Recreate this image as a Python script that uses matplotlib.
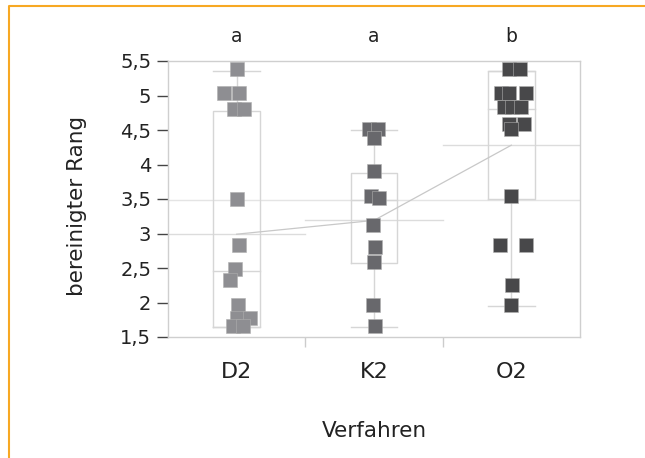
import matplotlib
matplotlib.use("Agg")
import matplotlib.pyplot as plt
from matplotlib.lines import Line2D
from matplotlib.ticker import FixedLocator, FuncFormatter

plt.rcParams['font.family'] = ['DejaVu Sans']

# data
categories = ["D2", "K2", "O2"]
letters = ["a", "a", "b"]

d2_values = [5.39, 5.03, 5.03, 4.81, 4.81, 3.50, 2.83, 2.48, 2.33, 1.97, 1.77, 1.77, 1.66, 1.66]
k2_values = [4.51, 4.51, 4.39, 3.90, 3.55, 3.51, 3.12, 2.81, 2.59, 1.96, 1.66]
o2_values = [5.39, 5.39, 5.03, 5.03, 5.03, 4.83, 4.83, 4.83, 4.59, 4.59, 4.51,
             3.55, 2.83, 2.83, 2.25, 1.96]

# horizontal jitter of the points (category units)
d2_jitter = [0.0, -0.095, 0.015, -0.02, 0.05, 0.0, 0.015, -0.01, -0.05, 0.007, 0.0, 0.095, -0.03, 0.045]
k2_jitter = [-0.036, 0.029, 0.0, 0.0, -0.02, 0.036, -0.007, 0.007, 0.0, -0.007, 0.007]
o2_jitter = [-0.015, 0.065, -0.073, -0.015, 0.11, -0.05, 0.007, 0.07, -0.015, 0.095, 0.0,
             0.0, -0.08, 0.11, 0.007, 0.0]

# quantile boxes: lower whisker, q1, median, q3, upper whisker
box_lo = [1.64, 1.64, 1.945]
box_q1 = [1.64, 2.57, 3.50]
box_med = [2.46, 3.49, 4.81]
box_q3 = [4.78, 3.87, 5.36]
box_hi = [5.36, 4.50, 5.36]

group_means = [2.99, 3.19, 4.28]
grand_mean = 3.49

values = [d2_values, k2_values, o2_values]
jitters = [d2_jitter, k2_jitter, o2_jitter]
colors = ["#8e8e92", "#68686c", "#48484a"]

fig = plt.figure(figsize=(6.45, 4.58), dpi=100)
ax = fig.add_axes([168 / 645, 1 - 337 / 458, 412 / 645, 276 / 458])

line_grey = "#d6d6d6"
hw = 0.17

# grand mean across the whole plot
ax.axhline(grand_mean, color="#e4e4e4", lw=1, zorder=1)

for i in range(len(categories)):
    # group mean line over the category width
    ax.plot([i - 0.5, i + 0.5], [group_means[i], group_means[i]], color="#dcdcdc", lw=1, zorder=1)
    # box
    ax.plot([i - hw, i + hw, i + hw, i - hw, i - hw],
            [box_q1[i], box_q1[i], box_q3[i], box_q3[i], box_q1[i]],
            color=line_grey, lw=1, zorder=2)
    ax.plot([i - hw, i + hw], [box_med[i], box_med[i]], color=line_grey, lw=1, zorder=2)
    # whiskers
    ax.plot([i, i], [box_q3[i], box_hi[i]], color=line_grey, lw=1, zorder=2)
    ax.plot([i, i], [box_lo[i], box_q1[i]], color=line_grey, lw=1, zorder=2)
    ax.plot([i - hw, i + hw], [box_hi[i], box_hi[i]], color=line_grey, lw=1, zorder=2)
    ax.plot([i - hw, i + hw], [box_lo[i], box_lo[i]], color=line_grey, lw=1, zorder=2)

# line through the group means
ax.plot(range(len(categories)), group_means, color="#c8c8c8", lw=0.9, zorder=3)

for i, (vals, jit) in enumerate(zip(values, jitters)):
    xs = [i + j for j in jit]
    ax.scatter(xs, vals, marker="s", s=95, color=colors[i],
               edgecolors="#b0b0b0", linewidths=0.4, zorder=4)

for i, lt in enumerate(letters):
    ax.text(i, 5.85, lt, ha="center", va="center", fontsize=13.5, color="#222222", clip_on=False)

ax.set_xlim(-0.5, 2.5)
ax.set_ylim(1.5, 5.5)

yticks = [1.5, 2, 2.5, 3, 3.5, 4, 4.5, 5, 5.5]
ax.yaxis.set_major_locator(FixedLocator(yticks))
ax.yaxis.set_major_formatter(FuncFormatter(lambda v, p: ("%g" % v).replace(".", ",")))
ax.tick_params(axis="y", length=8, width=1, color="#444444", labelsize=14,
               labelcolor="#222222", pad=4)

ax.set_xticks(range(len(categories)))
ax.set_xticklabels(categories)
ax.set_xticks([0.5, 1.5], minor=True)
ax.tick_params(axis="x", which="major", length=0, pad=18, labelsize=16, labelcolor="#222222")
ax.tick_params(axis="x", which="minor", length=7, color="#cccccc", width=1)

for s in ax.spines.values():
    s.set_color("#cfcfcf")
    s.set_linewidth(1)

ax.set_ylabel("bereinigter Rang", fontsize=15.5, color="#222222")
ax.yaxis.set_label_coords(-0.197, 0.475)
ax.set_xlabel("Verfahren", fontsize=15.5, color="#222222", labelpad=28)

# orange frame at top and left
fig.add_artist(Line2D([9 / 645, 9 / 645, 1], [0, 1 - 6 / 458, 1 - 6 / 458],
                      transform=fig.transFigure, color="#f7a823", lw=1.5))

fig.savefig("out.png", dpi=100)
